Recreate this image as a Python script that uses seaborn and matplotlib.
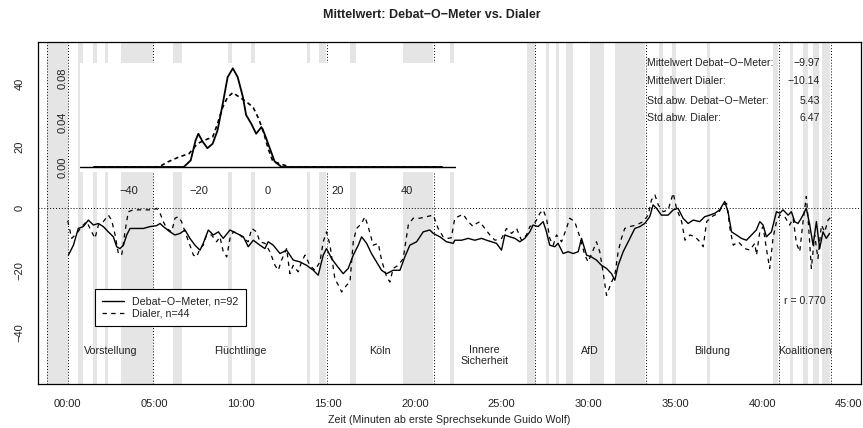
import numpy as np
import pandas as pd
import matplotlib
matplotlib.use("Agg")
import matplotlib.pyplot as plt
import seaborn as sns

# ---------------- data ----------------
# Debat-O-Meter mean (minutes since first speaking second, rating)
dom_t = [0.04, 0.33, 0.61, 0.90, 1.19, 1.48, 1.77, 2.05, 2.34, 2.63, 2.82, 3.01, 3.21, 3.40,
         3.59, 3.88, 4.36, 4.74, 5.12, 5.32, 5.51, 5.89, 6.18, 6.47, 6.76, 7.04, 7.33, 7.62,
         7.81, 8.10, 8.39, 8.68, 8.96, 9.35, 9.73, 10.12, 10.40, 10.69, 11.07, 11.36, 11.55,
         11.84, 12.23, 12.61, 12.99, 13.38, 13.76, 14.15, 14.43, 14.72, 14.91, 15.20, 15.49,
         15.87, 16.16, 16.45, 16.74, 16.93, 17.22, 17.50, 17.79, 18.08, 18.37, 18.75, 19.14,
         19.42, 19.71, 20.10, 20.48, 20.86, 21.06, 21.44, 21.82, 22.21,
         22.30, 22.69, 23.07, 23.45, 23.84, 24.13, 24.42, 24.70, 24.99, 25.18, 25.47, 25.76,
         26.05, 26.33, 26.62, 26.81, 27.10, 27.39, 27.58, 27.77, 28.06, 28.25, 28.54, 28.83,
         29.12, 29.41, 29.60, 29.89, 30.17, 30.46, 30.75, 31.04, 31.33, 31.52, 31.71, 32.00,
         32.29, 32.67, 32.96, 33.24, 33.53, 33.72, 33.92, 34.20, 34.59, 34.88, 35.16, 35.45,
         35.74, 36.03, 36.41, 36.70, 36.99, 37.28, 37.56, 37.85, 38.04, 38.24, 38.52, 38.81,
         39.10, 39.39, 39.67, 39.87, 40.06, 40.25, 40.54, 40.83, 41.02, 41.21, 41.50, 41.69,
         41.88, 42.07, 42.26, 42.55, 42.75, 42.94, 43.13, 43.32, 43.51, 43.70, 43.89]
dom_v = [-15.1, -11.9, -6.5, -5.9, -3.8, -5.4, -4.9, -5.9, -7.6, -9.2, -12.4, -13.0, -11.9, -8.6,
         -6.5, -6.5, -6.5, -5.9, -5.6, -4.9, -5.9, -7.6, -8.6, -8.1, -7.0, -9.7, -11.9, -13.5,
         -11.3, -7.0, -8.6, -7.6, -9.7, -7.0, -8.1, -9.2, -12.4, -10.3, -11.9, -13.0, -10.8,
         -11.9, -14.6, -13.5, -16.7, -17.3, -18.4, -20.0, -21.6, -15.1, -13.0, -16.2, -18.4,
         -21.1, -19.4, -15.1, -11.9, -9.2, -11.3, -14.6, -17.3, -20.0, -21.1, -20.0, -20.0,
         -15.7, -11.9, -10.8, -7.6, -7.0, -8.1, -9.2, -10.8, -11.3,
         -10.3, -10.3, -9.7, -10.3, -9.7, -10.3, -10.8, -11.3, -13.5, -8.6, -9.2, -9.7,
         -10.8, -9.7, -7.6, -5.4, -5.9, -4.3, -7.6, -11.9, -12.4, -11.3, -14.6, -14.0,
         -14.6, -14.0, -9.7, -15.1, -15.7, -16.7, -18.4, -19.4, -21.1, -23.2, -18.4, -14.0,
         -10.8, -6.5, -5.9, -4.9, -2.7, 1.1, 0.0, -2.2, -2.2, -0.5, 0.0, -3.2,
         -4.9, -3.8, -4.3, -2.7, -2.2, -1.6, -0.5, 2.2, -1.1, -7.6, -8.6, -9.7,
         -10.3, -8.6, -7.0, -4.3, -5.4, -9.2, -7.6, -1.1, -1.6, -0.5, -2.2, -1.1,
         -4.3, -4.9, -3.2, 0.0, -5.4, -11.9, -4.3, -13.0, -7.6, -9.7, -8.1]

# Dialer mean
dial_t = [0.00, 0.23, 0.52, 0.81, 1.09, 1.38, 1.57, 1.77, 2.05, 2.34, 2.53, 2.73, 2.92, 3.11,
          3.30, 3.49, 3.78, 4.36, 4.93, 5.12, 5.32, 5.51, 5.70, 5.99, 6.18, 6.37, 6.56, 6.76,
          7.04, 7.24, 7.43, 7.62, 7.81, 8.00, 8.29, 8.58, 8.77, 8.96, 9.16, 9.35, 9.54, 9.83,
          10.12, 10.40, 10.60, 10.88, 11.07, 11.36, 11.65, 11.94, 12.13, 12.32, 12.61, 12.80,
          12.99, 13.28, 13.47, 13.67, 13.95, 14.24, 14.53, 14.72, 14.91, 15.11, 15.39, 15.59,
          15.78, 16.07, 16.26, 16.45, 16.64, 16.93, 17.12, 17.31, 17.60, 17.89, 18.08, 18.37,
          18.56, 18.75, 19.04, 19.33, 19.62, 19.90, 20.29, 20.67, 21.06, 21.34, 21.63, 21.92,
          22.10,
          22.30, 22.78, 23.07, 23.36, 23.55, 23.74, 24.03, 24.32, 24.61, 25.00, 25.28, 25.57,
          25.86, 26.14, 26.43, 26.62, 26.81, 27.01, 27.20, 27.39, 27.58, 27.77, 27.97, 28.16,
          28.45, 28.73, 28.92, 29.21, 29.50, 29.79, 29.98, 30.27, 30.46, 30.65, 30.84, 31.04,
          31.33, 31.52, 31.71, 31.90, 32.09, 32.38, 32.76, 33.15, 33.44, 33.63, 33.83, 34.02,
          34.30, 34.59, 34.88, 35.07, 35.37, 35.56, 35.85, 36.14, 36.42, 36.61, 36.81, 37.10,
          37.48, 37.76, 37.96, 38.15, 38.34, 38.63, 39.01, 39.30, 39.58, 39.68, 39.87, 40.06,
          40.25, 40.44, 40.63, 40.83, 41.02, 41.31, 41.59, 41.79, 41.98, 42.17, 42.36, 42.55,
          42.65, 42.84, 43.03, 43.22, 43.42, 43.61, 43.80, 43.99]
dial_v = [-4.0, -9.7, -8.1, -5.9, -4.3, -7.6, -9.7, -5.4, -4.3, -2.2, -3.8, -8.6, -14.6, -15.1,
          -7.6, -1.1, -0.5, -0.5, -0.5, 0.0, -1.6, -4.3, -6.5, -7.6, -3.2, -2.7, -4.3, -7.6,
          -11.9, -15.1, -15.7, -13.0, -11.9, -8.6, -8.6, -10.8, -9.2, -14.0, -15.7, -9.7, -7.6, -8.1,
          -9.7, -10.8, -6.5, -7.6, -10.8, -11.3, -14.0, -18.4, -20.0, -16.7, -13.0, -21.1,
          -18.4, -20.5, -17.3, -15.1, -18.4, -20.0, -17.3, -10.8, -7.6, -11.9, -22.7, -24.8,
          -27.0, -24.8, -23.8, -10.8, -6.5, -4.9, -2.7, -5.9, -11.9, -11.3, -16.7, -22.1,
          -23.8, -19.4, -18.4, -16.2, -5.4, -3.2, -3.2, -2.7, -2.2, -6.5, -9.2, -9.7,
          -9.5,
          -3.2, -1.9, -4.3, -5.9, -4.9, -4.3, -6.5, -8.6, -10.3, -9.7, -6.5, -8.1,
          -6.5, -10.3, -8.6, -5.9, -5.4, -3.8, -1.6, -0.5, -3.2, -9.7, -11.9, -8.6,
          -10.8, -6.5, -3.2, -4.3, -9.2, -15.1, -17.3, -13.5, -10.8, -14.0, -20.5, -28.1,
          -23.8, -21.6, -14.0, -9.7, -6.5, -5.9, -5.4, -4.3, -2.2, 2.7, 4.3, 1.1,
          -1.1, -0.5, 4.9, 0.0, -4.3, -10.3, -8.6, -9.2, -10.8, -12.4, -4.3, -2.7,
          -1.6, 1.1, 1.6, -6.5, -11.9, -10.8, -13.0, -13.5, -11.3, -15.1, -7.6, -5.9,
          -13.0, -19.4, -9.7, -4.3, -2.2, -2.7, -5.4, -3.2, -11.3, -14.0, -4.3, 3.8,
          -3.2, -19.4, -8.6, -16.2, -5.4, -7.6, -3.8, -2.7]

# Density estimates (inset)
dens_dom_x = [-50, -24.2, -22.2, -20.8, -20.0, -18.8, -17.4, -15.9, -14.5, -13.0, -11.6, -10.1,
              -8.7, -7.2, -6.3, -4.8, -3.4, -1.9, -1.0, 0.5, 1.9, 3.9, 50]
dens_dom_y = [0.0, 0.0, 0.006, 0.024, 0.030, 0.023, 0.017, 0.021, 0.033, 0.057, 0.081, 0.089,
              0.081, 0.063, 0.047, 0.039, 0.030, 0.036, 0.030, 0.017, 0.005, 0.0, 0.0]
dens_dial_x = [-50, -31.4, -28.5, -25.6, -22.7, -20.3, -18.4, -15.9, -14.5, -13.0, -11.6, -10.1,
               -8.2, -6.3, -4.3, -2.9, -1.4, 0.0, 1.4, 3.4, 6.3, 50]
dens_dial_y = [0.0, 0.0, 0.005, 0.009, 0.012, 0.021, 0.024, 0.027, 0.039, 0.054, 0.063, 0.067,
               0.063, 0.059, 0.054, 0.045, 0.033, 0.017, 0.005, 0.003, 0.0, 0.0]

# Shaded speaker segments (minutes)
band_start = [-1.21, 0.61, 1.47, 2.15, 3.05, 6.08, 9.25, 10.54, 13.80, 14.49, 16.26, 19.30,
              22.02, 26.44, 27.55, 28.13, 28.70, 30.09, 31.53, 34.08, 34.79, 36.81, 40.65,
              41.61, 42.37, 42.92, 43.43]
band_end = [0.0, 0.90, 1.71, 2.34, 4.93, 6.57, 9.48, 10.79, 13.96, 14.90, 16.61, 21.06,
            22.25, 26.92, 27.74, 28.32, 29.09, 30.89, 33.25, 34.31, 35.04, 37.00, 40.93,
            41.80, 42.66, 43.29, 43.91]

# Topic boundaries (minutes) and topic names
section_bounds = [-1.2, 0.0, 4.93, 14.93, 21.1, 26.9, 33.3, 40.97, 44.0]
topic_labels = ["Vorstellung", "Flüchtlinge", "Köln", "Innere\nSicherheit", "AfD",
                "Bildung", "Koalitionen"]

stat_labels = ["Mittelwert Debat\u2212O\u2212Meter:", "Mittelwert Dialer:",
               "Std.abw. Debat\u2212O\u2212Meter:", "Std.abw. Dialer:"]
stat_values = [-9.97, -10.14, 5.43, 6.47]
r_value = 0.770

x_ticks = [0, 5, 10, 15, 20, 25, 30, 35, 40, 45]
x_tick_labels = ["00:00", "05:00", "10:00", "15:00", "20:00", "25:00", "30:00", "35:00",
                 "40:00", "45:00"]
y_ticks = [-40, -20, 0, 20, 40]
inset_x_ticks = [-40, -20, 0, 20, 40]
inset_y_ticks = [0.0, 0.02, 0.04, 0.06, 0.08]
inset_y_labels = ["0.00", "", "0.04", "", "0.08"]

series_names = ["Debat\u2212O\u2212Meter, n=92", "Dialer, n=44"]

# ---------------- style ----------------
sns.set_style("white")
plt.rcParams["font.family"] = ["Liberation Sans", "DejaVu Sans"]
plt.rcParams["axes.unicode_minus"] = True

W, H = 863, 428
fig = plt.figure(figsize=(W / 100, H / 100), dpi=100)
ax = fig.add_axes([37.5 / W, 1 - 384 / H, 823.5 / W, 342.4 / H])

GRAY = "#e5e5e5"
for s, e in zip(band_start, band_end):
    ax.axvspan(s, e, color=GRAY, lw=0, zorder=0)

dot = (0, (1, 2))
for b in section_bounds:
    ax.axvline(b, color="black", lw=0.7, linestyle=dot, zorder=1)
ax.axhline(0, color="black", lw=0.7, linestyle=dot, zorder=1)

df_dom = pd.DataFrame({"t": dom_t, "v": dom_v})
df_dial = pd.DataFrame({"t": dial_t, "v": dial_v})
sns.lineplot(data=df_dom, x="t", y="v", ax=ax, color="black", lw=1.0,
             estimator=None, sort=False, label=series_names[0], zorder=3)
sns.lineplot(data=df_dial, x="t", y="v", ax=ax, color="black", lw=0.9,
             estimator=None, sort=False, label=series_names[1], zorder=3)
ax.lines[-1].set_dashes([3.5, 3.5])

ax.set_xlim(-1.74, 45.70)
ax.set_ylim(-56.7, 53.8)
ax.set_xticks(x_ticks)
ax.set_xticklabels(x_tick_labels)
ax.set_yticks(y_ticks)
ax.tick_params(axis="both", direction="out", length=6, width=0.8, labelsize=8,
               color="black", labelcolor="#222222")
ax.tick_params(axis="x", pad=5)
ax.tick_params(axis="y", pad=3.5)
for lab in ax.get_yticklabels():
    lab.set_rotation(90)
    lab.set_va("center")
for sp in ax.spines.values():
    sp.set_color("black")
    sp.set_linewidth(0.9)
ax.set_xlabel("Zeit (Minuten ab erste Sprechsekunde Guido Wolf)", fontsize=7.7,
              labelpad=4, color="#222222")
ax.set_ylabel("")
ax.grid(False)

# Topic labels
for i, name in enumerate(topic_labels):
    mid = (section_bounds[i + 1] + section_bounds[i + 2]) / 2
    yy = -47.5 if "\n" in name else -45.9
    ax.text(mid, yy, name, ha="center", va="center", fontsize=7.7, color="#222222",
            linespacing=1.15, zorder=4)

# Stats
stat_y = [46.8, 41.1, 34.6, 29.0]
for lab, val, yy in zip(stat_labels, stat_values, stat_y):
    ax.text(33.35, yy, lab, ha="left", va="center", fontsize=7.6, color="#222222", zorder=4)
    ax.text(43.34, yy, f"{val:.2f}".replace("-", "\u2212"), ha="right", va="center",
            fontsize=7.6, color="#222222", zorder=4)
ax.text(43.69, -29.9, f"r = {r_value:.3f}", ha="right", va="center", fontsize=7.6,
        color="#222222", zorder=4)

leg = ax.legend(loc="upper left", bbox_to_anchor=(95 / W, 1 - 289 / H),
                bbox_transform=fig.transFigure, borderaxespad=0, fontsize=7.7,
                frameon=True, fancybox=False, framealpha=1, edgecolor="black",
                handlelength=2.0, handletextpad=0.8, labelspacing=0.2, borderpad=0.7)
leg.get_frame().set_linewidth(0.8)
for t in leg.get_texts():
    t.set_color("#222222")

fig.suptitle("Mittelwert: Debat\u2212O\u2212Meter vs. Dialer", x=0.5, y=1 - 15 / H,
             va="center", fontsize=9, fontweight="bold", color="#222222")

# ---------------- inset density ----------------
ins = fig.add_axes([80 / W, 1 - 172 / H, 376 / W, 109 / H])
ins.set_facecolor("white")
ins.axhline(0, color="black", lw=1.0)
df_dd = pd.DataFrame({"x": dens_dom_x, "y": dens_dom_y})
df_dl = pd.DataFrame({"x": dens_dial_x, "y": dens_dial_y})
sns.lineplot(data=df_dd, x="x", y="y", ax=ins, color="black", lw=1.3, estimator=None)
sns.lineplot(data=df_dl, x="x", y="y", ax=ins, color="black", lw=1.2, estimator=None)
ins.lines[-1].set_dashes([2.5, 2.0])
ins.set_xlim(-54, 54)
ins.set_ylim(-0.0045, 0.0938)
ins.set_xticks(inset_x_ticks)
ins.set_yticks(inset_y_ticks)
ins.set_yticklabels(inset_y_labels)
for lab in ins.get_yticklabels():
    lab.set_rotation(90)
    lab.set_va("center")
ins.tick_params(axis="both", direction="out", length=4, width=0.8, labelsize=8,
                color="black", labelcolor="#222222")
ins.tick_params(axis="x", pad=6)
ins.tick_params(axis="y", pad=5)
for sp in ins.spines.values():
    sp.set_visible(False)
ins.set_xlabel("")
ins.set_ylabel("")
ins.grid(False)

fig.savefig("out.png", dpi=100)
